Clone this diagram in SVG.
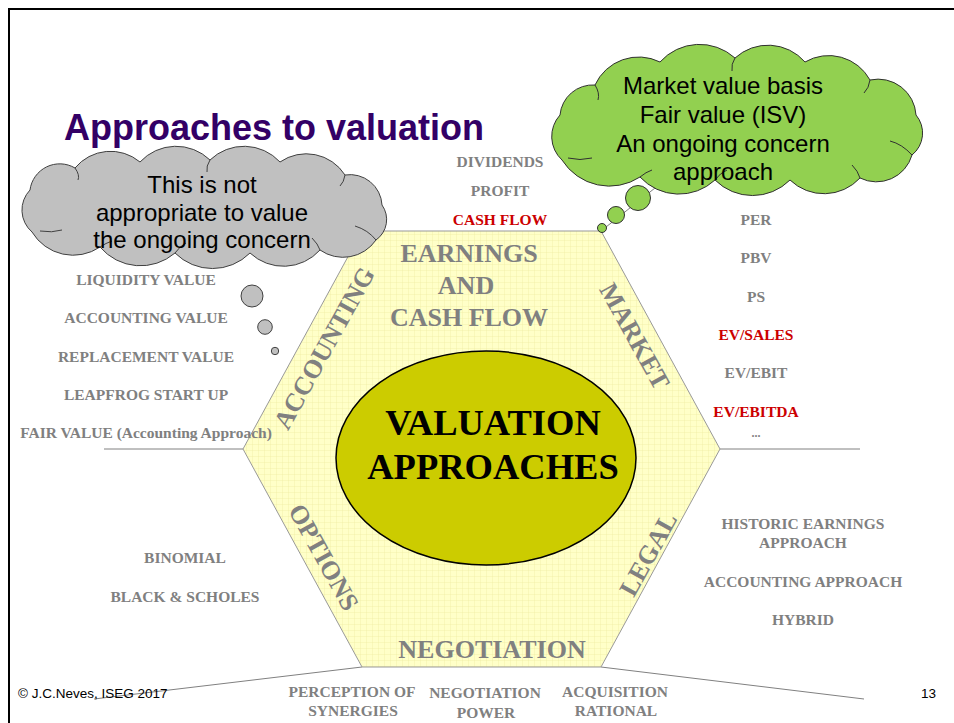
<svg xmlns="http://www.w3.org/2000/svg" width="954" height="723" viewBox="0 0 954 723">
<style>
.lbl{font-family:"Liberation Serif","Times New Roman",serif;font-weight:bold;font-size:15.5px;fill:#808080;text-anchor:middle}
.red{fill:#cc0000}
.big{font-family:"Liberation Serif","Times New Roman",serif;font-weight:bold;font-size:26px;fill:#808080;text-anchor:middle}
.core{font-family:"Liberation Serif","Times New Roman",serif;font-weight:bold;font-size:36.5px;fill:#000;text-anchor:middle}
.cloudtxt{font-family:"Liberation Sans",Arial,sans-serif;font-size:24px;fill:#000;text-anchor:middle}
.conn{stroke:#808080;stroke-width:1;fill:none}
.foot{font-family:"Liberation Sans",Arial,sans-serif;font-size:13.5px;fill:#000}
</style>
<defs>
<pattern id="grid" width="6" height="6" patternUnits="userSpaceOnUse">
<rect width="6" height="6" fill="#ffffc8"/>
<path d="M0 0H6M0 0V6" stroke="#eeeaa0" stroke-width="0.7"/>
</pattern>
</defs>
<rect width="954" height="723" fill="#fff"/>
<path d="M9 723V9H954" fill="none" stroke="#000" stroke-width="2"/>

<g id="connectors">
<line class="conn" x1="104" y1="449" x2="243" y2="449"/>
<line class="conn" x1="720" y1="449" x2="860" y2="449"/>
<line class="conn" x1="362" y1="667" x2="94" y2="699"/>
<line class="conn" x1="601" y1="667" x2="864" y2="699"/>
<line class="conn" x1="601" y1="231" x2="660" y2="184" stroke="#a0a0a0"/>
</g>

<g id="hexagon">
<polygon points="362,231 601,231 720,449 601,667 362,667 243,449" fill="url(#grid)" stroke="#999" stroke-width="1"/>
<text class="big" x="469" y="262">EARNINGS</text>
<text class="big" x="466" y="294">AND</text>
<text class="big" x="469" y="326">CASH FLOW</text>
<text class="big" x="492" y="658">NEGOTIATION</text>
<text class="big" transform="translate(324,348) rotate(-61)" x="0" y="9">ACCOUNTING</text>
<text class="big" transform="translate(635,336) rotate(61)" x="0" y="9">MARKET</text>
<text class="big" transform="translate(324,557) rotate(61)" x="0" y="9">OPTIONS</text>
<text class="big" transform="translate(648,554) rotate(-61)" x="0" y="9">LEGAL</text>
</g>

<g id="core">
<ellipse cx="486" cy="458" rx="150" ry="107" fill="#cccc00" stroke="#000" stroke-width="1.5"/>
<text class="core" x="493" y="435">VALUATION</text>
<text class="core" x="493" y="479">APPROACHES</text>
</g>

<g id="title">
<text x="64" y="140" font-family="'Liberation Sans',Arial,sans-serif" font-weight="bold" font-size="36" fill="#330066">Approaches to valuation</text>
</g>

<g id="earnings-items">
<text class="lbl" x="500" y="167">DIVIDENDS</text>
<text class="lbl" x="500" y="196">PROFIT</text>
<text class="lbl red" x="500" y="225">CASH FLOW</text>
</g>

<g id="market-items">
<text class="lbl" x="756" y="225">PER</text>
<text class="lbl" x="756" y="263">PBV</text>
<text class="lbl" x="756" y="302">PS</text>
<text class="lbl red" x="756" y="340">EV/SALES</text>
<text class="lbl" x="756" y="378">EV/EBIT</text>
<text class="lbl red" x="756" y="417">EV/EBITDA</text>
<text class="lbl" x="756" y="437" style="font-size:12px">...</text>
</g>

<g id="accounting-items">
<text class="lbl" x="146" y="285">LIQUIDITY VALUE</text>
<text class="lbl" x="146" y="323">ACCOUNTING VALUE</text>
<text class="lbl" x="146" y="362">REPLACEMENT VALUE</text>
<text class="lbl" x="146" y="400">LEAPFROG START UP</text>
<text class="lbl" x="146" y="438">FAIR VALUE (Accounting Approach)</text>
</g>

<g id="legal-items">
<text class="lbl" x="803" y="529">HISTORIC EARNINGS</text>
<text class="lbl" x="803" y="548">APPROACH</text>
<text class="lbl" x="803" y="587">ACCOUNTING APPROACH</text>
<text class="lbl" x="803" y="625">HYBRID</text>
</g>

<g id="options-items">
<text class="lbl" x="185" y="563">BINOMIAL</text>
<text class="lbl" x="185" y="602">BLACK &amp; SCHOLES</text>
</g>

<g id="negotiation-items">
<text class="lbl" x="352" y="697">PERCEPTION OF</text>
<text class="lbl" x="353" y="716">SYNERGIES</text>
<text class="lbl" x="485" y="698">NEGOTIATION</text>
<text class="lbl" x="486" y="718">POWER</text>
<text class="lbl" x="615" y="697">ACQUISITION</text>
<text class="lbl" x="616" y="716">RATIONAL</text>
</g>

<g id="gray-cloud">
<path d="M32 232 A29 29 0 0 1 30 190 A30 30 0 0 1 75 168 A46 46 0 0 1 140 162 A49 49 0 0 1 210 160 A49 49 0 0 1 280 162 A46 46 0 0 1 345 175 A32 32 0 0 1 382 205 A25 25 0 0 1 376 240 A40 40 0 0 1 320 250 A49 49 0 0 1 250 253 A53 53 0 0 1 175 253 A53 53 0 0 1 100 247 A48 48 0 0 1 32 232 Z" fill="#c0c0c0" stroke="#404040" stroke-width="1"/>
<path d="M40 231 Q52 233 62 230 M75 168 Q80 175 78 180 M210 160 Q206 166 207 172 M345 175 Q344 182 340 186 M376 240 Q368 230 355 226 M320 250 Q318 244 312 238 M175 253 Q180 246 186 243 M100 247 Q106 243 112 241" fill="none" stroke="#404040" stroke-width="1"/>
<circle cx="252" cy="296" r="11" fill="#c0c0c0" stroke="#404040" stroke-width="1"/>
<circle cx="265" cy="327" r="7.3" fill="#c0c0c0" stroke="#404040" stroke-width="1"/>
<circle cx="275" cy="351" r="3.7" fill="#c0c0c0" stroke="#404040" stroke-width="1"/>
<text class="cloudtxt" x="202" y="193">This is not</text>
<text class="cloudtxt" x="202" y="221">appropriate to value</text>
<text class="cloudtxt" x="202" y="248">the ongoing concern</text>
</g>

<g id="green-cloud">
<path d="M562 160 A32 32 0 0 1 560 115 A33 33 0 0 1 595 85 A48 48 0 0 1 660 62 A53 53 0 0 1 735 58 A49 49 0 0 1 805 62 A47 47 0 0 1 870 80 A38 38 0 0 1 916 115 A28 28 0 0 1 912 155 A37 37 0 0 1 860 178 A49 49 0 0 1 790 180 A53 53 0 0 1 715 180 A53 53 0 0 1 640 177 A56 56 0 0 1 562 160 Z" fill="#92d050" stroke="#303030" stroke-width="1"/>
<path d="M568 158 Q580 161 592 158 M595 85 Q600 93 598 100 M735 58 Q731 64 732 71 M870 80 Q869 88 864 93 M912 155 Q902 144 890 141 M860 178 Q858 171 852 165 M715 180 Q720 173 727 170 M640 177 Q646 172 652 170" fill="none" stroke="#303030" stroke-width="1"/>
<circle cx="638" cy="198" r="12.5" fill="#92d050" stroke="#303030" stroke-width="1"/>
<circle cx="616" cy="215" r="8.5" fill="#92d050" stroke="#303030" stroke-width="1"/>
<circle cx="602" cy="228" r="4.5" fill="#92d050" stroke="#303030" stroke-width="1"/>
<text class="cloudtxt" x="723" y="94">Market value basis</text>
<text class="cloudtxt" x="723" y="123">Fair value (ISV)</text>
<text class="cloudtxt" x="723" y="152">An ongoing concern</text>
<text class="cloudtxt" x="723" y="180">approach</text>
</g>

<g id="footer">
<text class="foot" x="18" y="698">© J.C.Neves, ISEG 2017</text>
<text class="foot" x="921" y="698" font-size="14">13</text>
</g>
</svg>
